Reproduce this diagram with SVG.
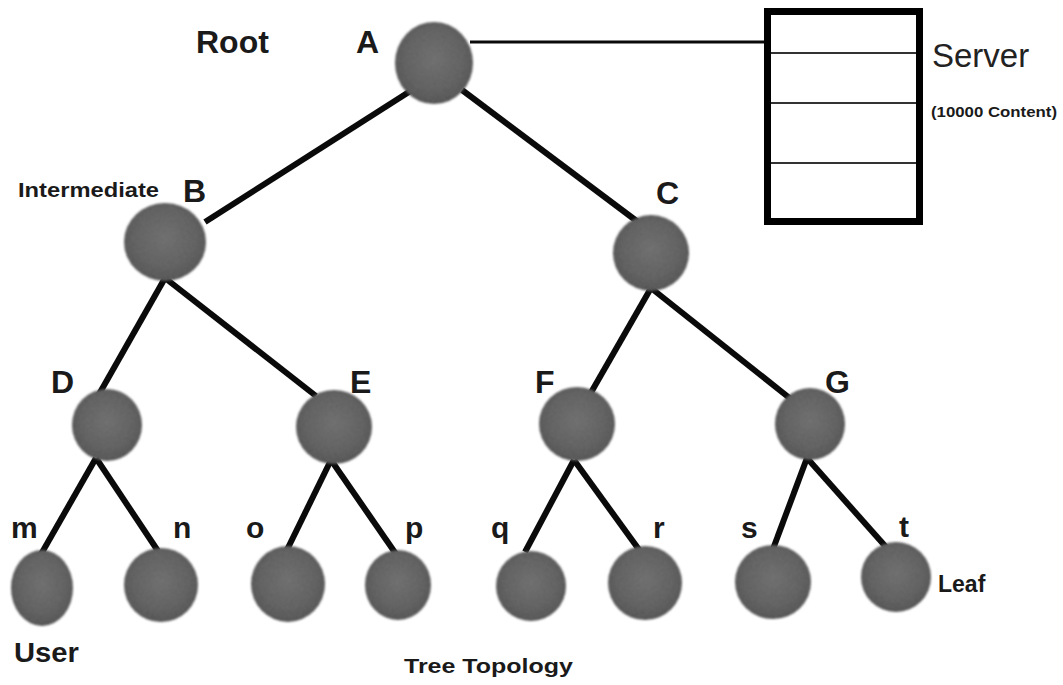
<svg xmlns="http://www.w3.org/2000/svg" width="1063" height="685" viewBox="0 0 1063 685">
  <style>
    .lbl { font-family: "Liberation Sans", Arial, sans-serif; font-weight: bold; fill: #1a1a1a; }
    .cap { font-size: 32px; }
    .low { font-size: 30px; }
    .edge { stroke: #0a0a0a; stroke-width: 6; stroke-linecap: butt; fill: none; }
    .node { fill: url(#ball); filter: url(#soft); }
  </style>
  <defs>
    <radialGradient id="ball" cx="50%" cy="45%" r="55%">
      <stop offset="0" stop-color="#646464"/>
      <stop offset="0.7" stop-color="#515151"/>
      <stop offset="1" stop-color="#404040"/>
    </radialGradient>
    <filter id="soft" x="-10%" y="-10%" width="120%" height="120%">
      <feTurbulence type="fractalNoise" baseFrequency="0.6" numOctaves="2" seed="3" result="noise"/>
      <feColorMatrix in="noise" type="matrix" values="0 0 0 0 0.5  0 0 0 0 0.5  0 0 0 0 0.5  0 0 0 0.2 0" result="grain"/>
      <feComposite in="grain" in2="SourceGraphic" operator="in" result="grainIn"/>
      <feMerge result="m"><feMergeNode in="SourceGraphic"/><feMergeNode in="grainIn"/></feMerge>
      <feGaussianBlur in="m" stdDeviation="1"/>
    </filter>
  </defs>
  <rect width="1063" height="685" fill="#ffffff"/>

  <!-- connectors -->
  <g id="connectors">
    <line x1="470" y1="42" x2="768" y2="42" stroke="#0a0a0a" stroke-width="3"/>
    <line class="edge" x1="412" y1="90" x2="205" y2="222"/>
    <line class="edge" x1="462" y1="90" x2="638" y2="222"/>
    <line class="edge" x1="165" y1="278" x2="98" y2="396"/>
    <line class="edge" x1="165" y1="278" x2="316" y2="396"/>
    <line class="edge" x1="651" y1="288" x2="589" y2="396"/>
    <line class="edge" x1="651" y1="288" x2="792" y2="400"/>
    <line class="edge" x1="96" y1="458" x2="40" y2="556"/>
    <line class="edge" x1="96" y1="458" x2="158" y2="551"/>
    <line class="edge" x1="331" y1="460" x2="285" y2="554"/>
    <line class="edge" x1="331" y1="460" x2="396" y2="554"/>
    <line class="edge" x1="574" y1="460" x2="525" y2="552"/>
    <line class="edge" x1="574" y1="460" x2="640" y2="551"/>
    <line class="edge" x1="807" y1="458" x2="773" y2="549"/>
    <line class="edge" x1="807" y1="458" x2="886" y2="547"/>
  </g>

  <!-- server storage -->
  <g id="server">
    <rect x="767.5" y="11.5" width="152" height="210" fill="#ffffff" stroke="#000" stroke-width="7"/>
    <line x1="771" y1="53" x2="916" y2="53" stroke="#333" stroke-width="2"/>
    <line x1="771" y1="103" x2="916" y2="103" stroke="#333" stroke-width="2"/>
    <line x1="771" y1="163" x2="916" y2="163" stroke="#333" stroke-width="2"/>
    <text x="932" y="67" font-family="Liberation Sans, Arial, sans-serif" font-size="33" fill="#222">Server</text>
    <text class="lbl" x="931" y="117" font-size="14" textLength="126" lengthAdjust="spacingAndGlyphs">(10000 Content)</text>
  </g>

  <g id="node-A"><ellipse class="node" cx="434" cy="63" rx="39" ry="41"/><text class="lbl cap" x="356" y="53">A</text></g>
  <g id="node-B"><ellipse class="node" cx="165" cy="242" rx="41" ry="39"/><text class="lbl cap" x="183" y="202">B</text></g>
  <g id="node-C"><ellipse class="node" cx="651" cy="253" rx="38" ry="38"/><text class="lbl cap" x="656" y="204">C</text></g>
  <g id="node-D"><ellipse class="node" cx="107" cy="425" rx="35" ry="36"/><text class="lbl cap" x="51" y="393">D</text></g>
  <g id="node-E"><ellipse class="node" cx="334" cy="427" rx="38" ry="37"/><text class="lbl cap" x="350" y="393">E</text></g>
  <g id="node-F"><ellipse class="node" cx="577" cy="424" rx="38" ry="37"/><text class="lbl cap" x="535" y="393">F</text></g>
  <g id="node-G"><ellipse class="node" cx="810" cy="424" rx="35" ry="36"/><text class="lbl cap" x="825" y="393">G</text></g>
  <g id="node-m"><ellipse class="node" cx="42" cy="588" rx="31" ry="38"/><text class="lbl low" x="11" y="538">m</text></g>
  <g id="node-n"><ellipse class="node" cx="161" cy="585" rx="37" ry="37"/><text class="lbl low" x="173" y="538">n</text></g>
  <g id="node-o"><ellipse class="node" cx="288" cy="584" rx="37" ry="38"/><text class="lbl low" x="246" y="538">o</text></g>
  <g id="node-p"><ellipse class="node" cx="398" cy="585" rx="33" ry="35"/><text class="lbl low" x="405" y="538">p</text></g>
  <g id="node-q"><ellipse class="node" cx="531" cy="586" rx="35" ry="35"/><text class="lbl low" x="491" y="538">q</text></g>
  <g id="node-r"><ellipse class="node" cx="645" cy="583" rx="37" ry="37"/><text class="lbl low" x="653" y="538">r</text></g>
  <g id="node-s"><ellipse class="node" cx="773" cy="582" rx="38" ry="37"/><text class="lbl low" x="741" y="538">s</text></g>
  <g id="node-t"><ellipse class="node" cx="896" cy="577" rx="35" ry="35"/><text class="lbl low" x="899" y="537">t</text></g>

  <!-- captions -->
  <g id="captions">
    <text class="lbl" x="196" y="53" font-size="32">Root</text>
    <text class="lbl" x="18" y="197" font-size="21" textLength="141" lengthAdjust="spacingAndGlyphs">Intermediate</text>
    <text class="lbl" x="938" y="592" font-size="23">Leaf</text>
    <text class="lbl" x="14" y="662" font-size="27" textLength="65" lengthAdjust="spacingAndGlyphs">User</text>
    <text class="lbl" x="404" y="673" font-size="21" textLength="169" lengthAdjust="spacingAndGlyphs">Tree Topology</text>
  </g>
</svg>
